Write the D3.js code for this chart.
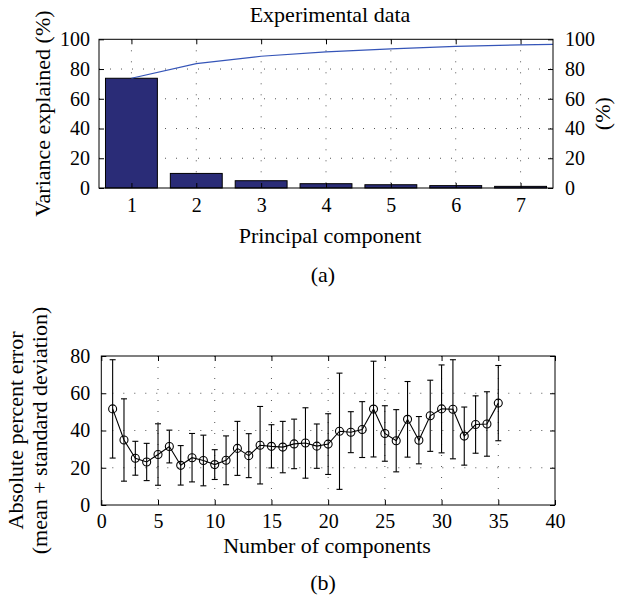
<!DOCTYPE html>
<html>
<head>
<meta charset="utf-8">
<script src="https://cdn.jsdelivr.net/npm/d3@7/dist/d3.min.js"></script>
<style>
  html, body { margin: 0; padding: 0; background: #fff; }
  svg text { font-family: "Liberation Serif", "Times New Roman", serif; fill: #000; }
</style>
</head>
<body>
<svg id="fig" width="617" height="601"></svg>
<script>
// ---- (a) PCA of the experimental data ----
const components = [1, 2, 3, 4, 5, 6, 7];
const varianceExplained = [73.8, 9.8, 4.9, 2.9, 2.2, 1.6, 1.1];
// cumulative variance curve (continues past the last bar shown)
const cumulativeX = [1, 2, 3, 4, 5, 6, 7, 8];
const cumulativeVariance = [73.8, 83.6, 88.6, 91.5, 93.6, 95.2, 96.3, 97.0];
const pctTicks = [0, 20, 40, 60, 80, 100];

// ---- (b) prediction error vs number of components ----
const nComponents = [1, 2, 3, 4, 5, 6, 7, 8, 9, 10, 11, 12, 13, 14, 15, 16, 17, 18,
  19, 20, 21, 22, 23, 24, 25, 26, 27, 28, 29, 30, 31, 32, 33, 34, 35];
const meanError = [51.6, 34.9, 25.1, 23.1, 27.1, 31.4, 21.3, 25.4, 23.9, 21.7, 24.0, 30.4,
  26.5, 32.1, 31.5, 31.1, 32.8, 33.3, 31.6, 32.7, 39.6, 39.1, 40.5, 51.5, 38.4, 34.5,
  46.0, 34.8, 47.9, 51.6, 51.4, 37.0, 43.2, 43.5, 54.7];
const stdError = [26.4, 22.1, 9.1, 10.0, 16.5, 8.8, 10.6, 13.0, 13.6, 8.0, 13.1, 14.5,
  11.8, 20.8, 11.6, 13.8, 13.3, 18.9, 11.9, 16.3, 31.2, 11.0, 15.0, 25.7, 14.9, 16.7,
  20.3, 12.7, 19.1, 23.6, 26.6, 15.6, 15.4, 17.3, 20.2];
const compTicks = [0, 5, 10, 15, 20, 25, 30, 35, 40];
const errTicks = [0, 20, 40, 60, 80];

const svg = d3.select("#fig");
const TICK_FONT = 20, LABEL_FONT = 22;
const gridStyle = sel => sel.attr("stroke", "#555").attr("stroke-width", 1)
  .attr("stroke-dasharray", "1,10").attr("fill", "none");

function styleAxis(g) {
  g.select(".domain").remove();
  g.selectAll(".tick line").attr("stroke", "#000");
  g.selectAll(".tick text").attr("font-size", TICK_FONT)
    .attr("font-family", "Liberation Serif, serif").attr("fill", "#000");
}

// ================= Panel (a) =================
{
  const L = 99, R = 553, T = 39.3, B = 188;
  const x = d3.scaleLinear().domain([0.5, 7.5]).range([L, R]);
  const y = d3.scaleLinear().domain([0, 100]).range([B, T]);
  const g = svg.append("g");

  // grid
  g.selectAll("line.hg").data(pctTicks.filter(v => v > 0 && v < 100)).join("line")
    .attr("x1", L).attr("x2", R).attr("y1", d => y(d)).attr("y2", d => y(d)).call(gridStyle);
  g.selectAll("line.vg").data(components).join("line")
    .attr("x1", d => x(d)).attr("x2", d => x(d)).attr("y1", T).attr("y2", B).call(gridStyle);

  // bars
  const bw = (x(2) - x(1)) * 0.8;
  g.selectAll("rect.bar").data(components).join("rect")
    .attr("x", d => x(d) - bw / 2).attr("width", bw)
    .attr("y", (d, i) => y(varianceExplained[i]))
    .attr("height", (d, i) => y(0) - y(varianceExplained[i]))
    .attr("fill", "#2a2c77").attr("stroke", "#000").attr("stroke-width", 1);

  // cumulative curve
  g.append("clipPath").attr("id", "clipA").append("rect")
    .attr("x", L).attr("y", T).attr("width", R - L).attr("height", B - T);
  g.append("path")
    .datum(cumulativeX.map((c, i) => [c, cumulativeVariance[i]]))
    .attr("clip-path", "url(#clipA)")
    .attr("d", d3.line().x(d => x(d[0])).y(d => y(d[1])))
    .attr("fill", "none").attr("stroke", "#3555b8").attr("stroke-width", 1.2);

  // axes (inward ticks)
  g.append("g").attr("transform", `translate(0,${B})`)
    .call(d3.axisBottom(x).tickValues(components).tickFormat(d3.format("d"))
      .tickSizeInner(-5).tickSizeOuter(0).tickPadding(10)).call(styleAxis);
  g.append("g").attr("transform", `translate(0,${T})`)
    .call(d3.axisTop(x).tickValues(components).tickFormat("")
      .tickSizeInner(-5).tickSizeOuter(0)).call(styleAxis);
  g.append("g").attr("transform", `translate(${L},0)`)
    .call(d3.axisLeft(y).tickValues(pctTicks).tickFormat(d3.format("d"))
      .tickSizeInner(-5).tickSizeOuter(0).tickPadding(9)).call(styleAxis);
  g.append("g").attr("transform", `translate(${R},0)`)
    .call(d3.axisRight(y).tickValues(pctTicks).tickFormat(d3.format("d"))
      .tickSizeInner(-5).tickSizeOuter(0).tickPadding(12)).call(styleAxis);

  g.append("rect").attr("x", L).attr("y", T).attr("width", R - L).attr("height", B - T)
    .attr("fill", "none").attr("stroke", "#000").attr("stroke-width", 1);

  // labels
  g.append("text").attr("x", 330).attr("y", 22).attr("text-anchor", "middle")
    .attr("font-size", LABEL_FONT).text("Experimental data");
  g.append("text").attr("x", 330).attr("y", 243).attr("text-anchor", "middle")
    .attr("font-size", LABEL_FONT).text("Principal component");
  g.append("text").attr("transform", `translate(50,${(T + B) / 2}) rotate(-90)`)
    .attr("text-anchor", "middle").attr("font-size", LABEL_FONT).text("Variance explained (%)");
  g.append("text").attr("transform", `translate(610,${(T + B) / 2}) rotate(-90)`)
    .attr("text-anchor", "middle").attr("font-size", LABEL_FONT).text("(%)");
  g.append("text").attr("x", 323).attr("y", 282).attr("text-anchor", "middle")
    .attr("font-size", LABEL_FONT).text("(a)");
}

// ================= Panel (b) =================
{
  const L = 101.3, R = 555, T = 356, B = 505;
  const x = d3.scaleLinear().domain([0, 40]).range([L, R]);
  const y = d3.scaleLinear().domain([0, 80]).range([B, T]);
  const g = svg.append("g");

  g.selectAll("line.hg").data(errTicks.filter(v => v > 0 && v < 80)).join("line")
    .attr("x1", L).attr("x2", R).attr("y1", d => y(d)).attr("y2", d => y(d)).call(gridStyle);
  g.selectAll("line.vg").data(compTicks.filter(v => v > 0 && v < 40)).join("line")
    .attr("x1", d => x(d)).attr("x2", d => x(d)).attr("y1", T).attr("y2", B).call(gridStyle);

  const pts = nComponents.map((n, i) => ({ n, m: meanError[i], s: stdError[i] }));
  const cap = 3;

  // error bars
  const eb = g.append("g").attr("stroke", "#000").attr("stroke-width", 1.1);
  eb.selectAll("line.v").data(pts).join("line")
    .attr("x1", d => x(d.n)).attr("x2", d => x(d.n))
    .attr("y1", d => y(d.m - d.s)).attr("y2", d => y(d.m + d.s));
  eb.selectAll("line.top").data(pts).join("line")
    .attr("x1", d => x(d.n) - cap).attr("x2", d => x(d.n) + cap)
    .attr("y1", d => y(d.m + d.s)).attr("y2", d => y(d.m + d.s));
  eb.selectAll("line.bot").data(pts).join("line")
    .attr("x1", d => x(d.n) - cap).attr("x2", d => x(d.n) + cap)
    .attr("y1", d => y(d.m - d.s)).attr("y2", d => y(d.m - d.s));

  // mean line and markers
  g.append("path").datum(pts)
    .attr("d", d3.line().x(d => x(d.n)).y(d => y(d.m)))
    .attr("fill", "none").attr("stroke", "#000").attr("stroke-width", 1.1);
  g.selectAll("circle").data(pts).join("circle")
    .attr("cx", d => x(d.n)).attr("cy", d => y(d.m)).attr("r", 4)
    .attr("fill", "none").attr("stroke", "#000").attr("stroke-width", 1.1);

  g.append("g").attr("transform", `translate(0,${B})`)
    .call(d3.axisBottom(x).tickValues(compTicks).tickFormat(d3.format("d"))
      .tickSizeInner(-5).tickSizeOuter(0).tickPadding(9)).call(styleAxis);
  g.append("g").attr("transform", `translate(0,${T})`)
    .call(d3.axisTop(x).tickValues(compTicks).tickFormat("")
      .tickSizeInner(-5).tickSizeOuter(0)).call(styleAxis);
  g.append("g").attr("transform", `translate(${L},0)`)
    .call(d3.axisLeft(y).tickValues(errTicks).tickFormat(d3.format("d"))
      .tickSizeInner(-5).tickSizeOuter(0).tickPadding(11)).call(styleAxis);
  g.append("g").attr("transform", `translate(${R},0)`)
    .call(d3.axisRight(y).tickValues(errTicks).tickFormat("")
      .tickSizeInner(-5).tickSizeOuter(0)).call(styleAxis);

  g.append("rect").attr("x", L).attr("y", T).attr("width", R - L).attr("height", B - T)
    .attr("fill", "none").attr("stroke", "#000").attr("stroke-width", 1);

  g.append("text").attr("x", 327).attr("y", 553).attr("text-anchor", "middle")
    .attr("font-size", LABEL_FONT).text("Number of components");
  g.append("text").attr("transform", `translate(23,${(T + B) / 2}) rotate(-90)`)
    .attr("text-anchor", "middle").attr("font-size", LABEL_FONT).text("Absolute percent error");
  g.append("text").attr("transform", `translate(47,${(T + B) / 2}) rotate(-90)`)
    .attr("text-anchor", "middle").attr("font-size", LABEL_FONT).text("(mean + standard deviation)");
  g.append("text").attr("x", 323).attr("y", 590).attr("text-anchor", "middle")
    .attr("font-size", LABEL_FONT).text("(b)");
}
</script>
</body>
</html>
